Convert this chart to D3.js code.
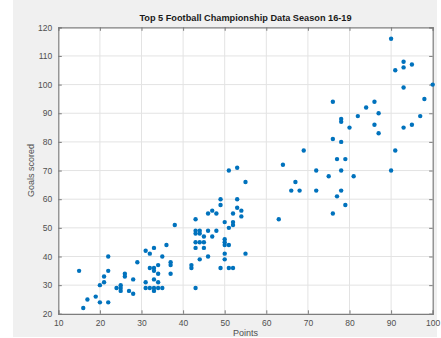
<!DOCTYPE html>
<html>
<head>
<meta charset="utf-8">
<script src="https://cdn.jsdelivr.net/npm/d3@7"></script>
<style>
  html, body { margin: 0; padding: 0; background: #ffffff; }
  svg { display: block; }
  text { font-family: "Liberation Sans", Arial, Helvetica, sans-serif; }
</style>
</head>
<body>
<svg id="chart" width="441" height="338"></svg>
<script>
// Points earned in a season vs goals scored, one dot per club-season
const points = [
  15, 16, 17, 19, 20, 20, 21, 21, 22, 22, 22, 24, 25, 25, 25, 26, 26, 27, 28, 28,
  29, 31, 31, 31, 32, 32, 32, 33, 33, 33, 33, 33, 33, 34, 34, 34, 34, 35, 35, 36,
  37, 37, 37, 38, 42, 42, 43, 43, 43, 43, 43, 43, 44, 44, 44, 44, 45, 45, 45, 46,
  46, 46, 47, 47, 48, 48, 49, 49, 49, 50, 50, 50, 50, 50, 50, 51, 51, 51, 51, 52,
  52, 52, 52, 53, 53, 53, 54, 54, 55, 55, 63, 64, 66, 67, 68, 69, 72, 72, 75, 76,
  76, 76, 77, 77, 78, 78, 78, 78, 78, 79, 79, 80, 81, 82, 84, 86, 86, 87, 87, 90,
  90, 91, 91, 93, 93, 93, 93, 95, 95, 97, 98, 100
];
const goals = [
  35, 22, 25, 26, 24, 30, 31, 33, 24, 35, 40, 29, 30, 29, 28, 34, 33, 28, 27, 32,
  38, 42, 31, 29, 41, 36, 29, 43, 36, 35, 32, 29, 28, 37, 34, 31, 29, 40, 29, 44,
  38, 37, 34, 51, 37, 36, 53, 49, 48, 45, 43, 29, 49, 48, 45, 39, 47, 45, 43, 55,
  49, 40, 56, 47, 55, 49, 60, 58, 36, 52, 46, 45, 44, 41, 39, 44, 50, 70, 36, 55,
  52, 51, 36, 71, 60, 57, 56, 54, 66, 41, 53, 72, 63, 66, 63, 77, 70, 63, 68, 94,
  81, 55, 74, 61, 88, 87, 80, 70, 63, 74, 58, 85, 68, 89, 92, 94, 86, 90, 83, 116,
  70, 105, 77, 108, 106, 99, 85, 107, 86, 89, 95, 100
];

const xTicks = [10, 20, 30, 40, 50, 60, 70, 80, 90, 100];
const yTicks = [20, 30, 40, 50, 60, 70, 80, 90, 100, 110, 120];

const titleText = "Top 5 Football Championship Data Season 16-19";
const xLabel = "Points";
const yLabel = "Goals scored";

const svg = d3.select("#chart");
const box = { left: 58.3, right: 432.7, top: 27.3, bottom: 313.8 };

// figure background
svg.append("rect")
  .attr("x", 13).attr("y", 0)
  .attr("width", 424).attr("height", 337)
  .attr("fill", "#f0f0f0");

const x = d3.scaleLinear().domain([10, 100]).range([box.left, box.right]);
const y = d3.scaleLinear().domain([20, 120]).range([box.bottom, box.top]);

// plot area
svg.append("rect")
  .attr("x", box.left).attr("y", box.top)
  .attr("width", box.right - box.left).attr("height", box.bottom - box.top)
  .attr("fill", "#ffffff");

// grid
const grid = svg.append("g").attr("stroke", "#e3e3e3").attr("stroke-width", 1);
grid.selectAll("line.vx").data(xTicks.slice(1, -1)).join("line")
  .attr("x1", d => x(d)).attr("x2", d => x(d))
  .attr("y1", box.top).attr("y2", box.bottom);
grid.selectAll("line.hy").data(yTicks.slice(1, -1)).join("line")
  .attr("x1", box.left).attr("x2", box.right)
  .attr("y1", d => y(d)).attr("y2", d => y(d));

// axes (ticks point inward, box on)
const tickLen = 3.5;
const axisColor = "#7d7d7d";
const labelColor = "#4f4f4f";

const gx = svg.append("g")
  .attr("transform", `translate(0,${box.bottom})`)
  .call(d3.axisBottom(x).tickValues(xTicks).tickSize(-tickLen).tickPadding(6));
const gxTop = svg.append("g")
  .attr("transform", `translate(0,${box.top})`)
  .call(d3.axisTop(x).tickValues(xTicks).tickSize(-tickLen).tickFormat(""));
const gy = svg.append("g")
  .attr("transform", `translate(${box.left},0)`)
  .call(d3.axisLeft(y).tickValues(yTicks).tickSize(-tickLen).tickPadding(6));
const gyRight = svg.append("g")
  .attr("transform", `translate(${box.right},0)`)
  .call(d3.axisRight(y).tickValues(yTicks).tickSize(-tickLen).tickFormat(""));

[gx, gxTop, gy, gyRight].forEach(g => {
  g.select(".domain").attr("stroke", axisColor).attr("stroke-width", 1.2);
  g.selectAll(".tick line").attr("stroke", axisColor).attr("stroke-width", 1);
  g.selectAll(".tick text")
    .attr("fill", labelColor)
    .style("font-size", "8.5px")
    .style("font-family", "'Liberation Sans', Arial, sans-serif");
});

// data points
svg.append("g")
  .selectAll("circle")
  .data(points.map((p, i) => [p, goals[i]]))
  .join("circle")
  .attr("cx", d => x(d[0]))
  .attr("cy", d => y(d[1]))
  .attr("r", 2.2)
  .attr("fill", "#0072BD");

// title and axis labels
svg.append("text")
  .attr("x", (box.left + box.right) / 2)
  .attr("y", 21)
  .attr("text-anchor", "middle")
  .attr("fill", "#1a1a1a")
  .style("font-size", "9.2px")
  .style("font-weight", "bold")
  .text(titleText);

svg.append("text")
  .attr("x", (box.left + box.right) / 2)
  .attr("y", 335.5)
  .attr("text-anchor", "middle")
  .attr("fill", labelColor)
  .style("font-size", "9px")
  .text(xLabel);

svg.append("text")
  .attr("transform", `translate(34,${(box.top + box.bottom) / 2}) rotate(-90)`)
  .attr("text-anchor", "middle")
  .attr("fill", labelColor)
  .style("font-size", "9px")
  .text(yLabel);
</script>
</body>
</html>
